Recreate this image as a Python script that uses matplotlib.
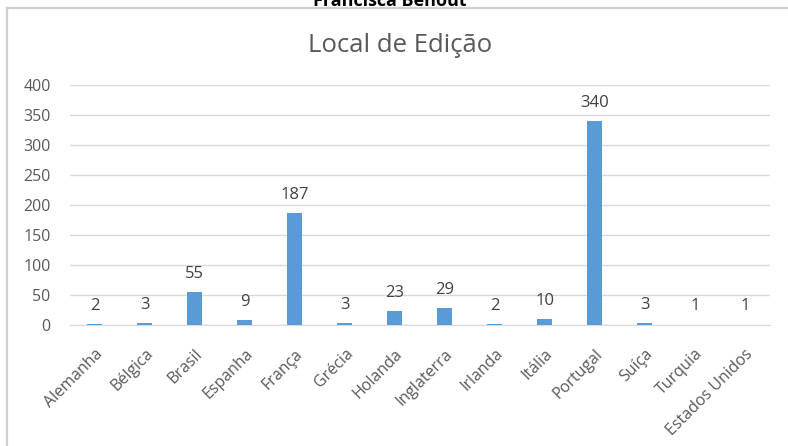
import matplotlib.pyplot as plt
from matplotlib.lines import Line2D

countries = ['Alemanha', 'Bélgica', 'Brasil', 'Espanha', 'França', 'Grécia', 'Holanda',
             'Inglaterra', 'Irlanda', 'Itália', 'Portugal', 'Suíça', 'Turquia', 'Estados Unidos']
counts = [2, 3, 55, 9, 187, 3, 23, 29, 2, 10, 340, 3, 1, 1]
yticks = [0, 50, 100, 150, 200, 250, 300, 350, 400]

plt.rcParams['font.family'] = ['Open Sans', 'DejaVu Sans']

fig = plt.figure(figsize=(7.88, 4.46), dpi=100)
ax = fig.add_axes([0.0888, 0.271, 0.888, 0.538])

x = range(len(countries))
ax.bar(x, counts, width=0.3, color='#5B9BD5', zorder=3)
for xi, v in zip(x, counts):
    ax.text(xi, v + 17, str(v), ha='center', va='bottom', fontsize=12, color='#404040')

ax.set_xlim(-0.5, len(countries) - 0.5)
ax.set_ylim(0, 400)
ax.set_yticks(yticks)
ax.set_xticks(list(x))
ax.set_xticklabels(countries, rotation=45, ha='right', rotation_mode='anchor')
ax.tick_params(axis='both', length=0, labelsize=11.5, labelcolor='#595959')
ax.tick_params(axis='y', pad=14)
ax.tick_params(axis='x', pad=15)
ax.grid(axis='y', color='#D9D9D9', linewidth=1, zorder=0)
for s in ['top', 'right', 'left']:
    ax.spines[s].set_visible(False)
ax.spines['bottom'].set_color('#D9D9D9')
ax.spines['bottom'].set_zorder(2)

fig.text(0.508, 0.898, 'Local de Edição', ha='center', va='center', fontsize=18.5, color='#595959')
# cut-off heading from the page above the chart
fig.text(0.495, 0.997, 'Francisca Benoût', ha='center', va='center', fontsize=13,
         fontweight='bold', color='black')

# chart frame (top and left edges visible)
fig.add_artist(Line2D([0.009, 1.0], [0.981, 0.981], transform=fig.transFigure, color='#D0D0D0', linewidth=1.6))
fig.add_artist(Line2D([0.009, 0.009], [0.0, 0.981], transform=fig.transFigure, color='#D0D0D0', linewidth=1.6))

fig.savefig('out.png', dpi=100)
